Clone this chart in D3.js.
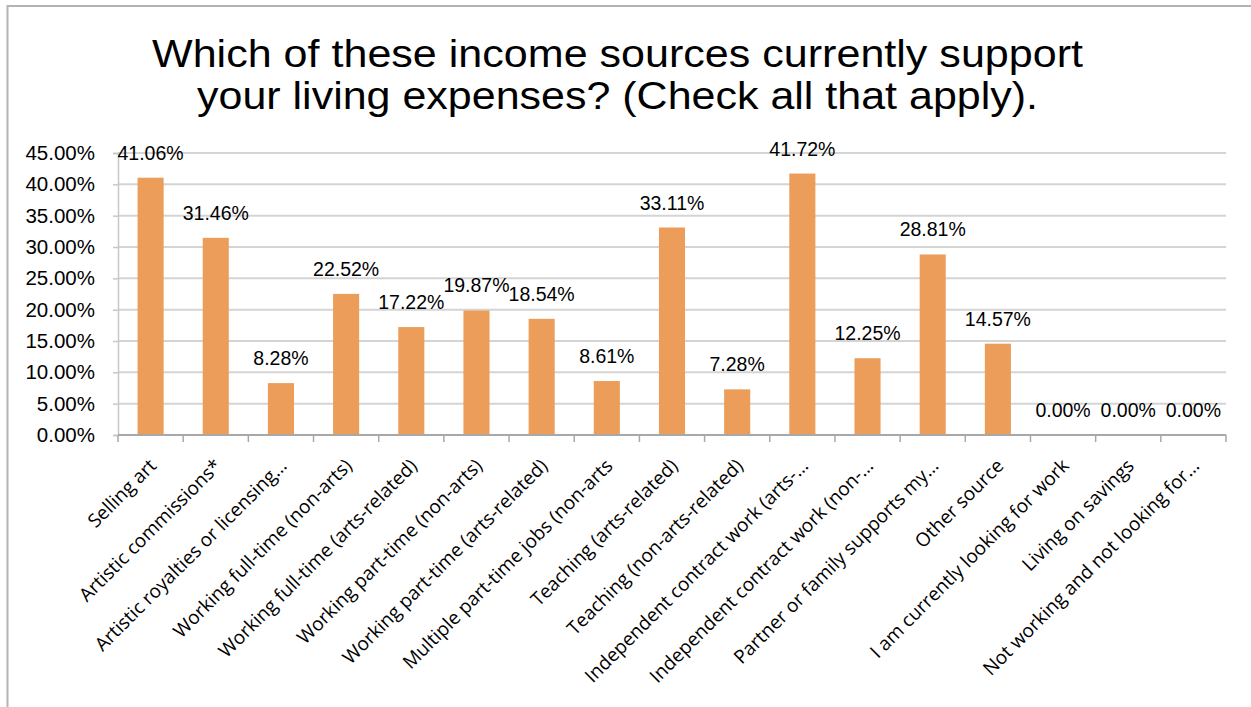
<!DOCTYPE html>
<html>
<head>
<meta charset="utf-8">
<script src="https://cdn.jsdelivr.net/npm/d3@7/dist/d3.min.js"></script>
<style>
  html, body { margin: 0; padding: 0; background: #fff; }
  svg { display: block; }
</style>
</head>
<body>
<script>
// Income sources and share of respondents (%)
const categories = [
  "Selling art",
  "Artistic commissions*",
  "Artistic royalties or licensing…",
  "Working full-time (non-arts)",
  "Working full-time (arts-related)",
  "Working part-time (non-arts)",
  "Working part-time (arts-related)",
  "Multiple part-time jobs (non-arts",
  "Teaching (arts-related)",
  "Teaching (non-arts-related)",
  "Independent contract work (arts-…",
  "Independent contract work (non-…",
  "Partner or family supports my…",
  "Other source",
  "I am currently looking for work",
  "Living on savings",
  "Not working and not looking for…"
];
const values = [41.06, 31.46, 8.28, 22.52, 17.22, 19.87, 18.54, 8.61, 33.11, 7.28, 41.72, 12.25, 28.81, 14.57, 0.00, 0.00, 0.00];
const yTicks = [0, 5, 10, 15, 20, 25, 30, 35, 40, 45];
const titleLines = [
  "Which of these income sources currently support",
  "your living expenses? (Check all that apply)."
];

const W = 1251, H = 707;
const plot = { left: 118, right: 1226, top: 153, bottom: 435 };

const svg = d3.select("body").append("svg")
  .attr("width", W).attr("height", H);

// Frame around the chart
svg.append("line").attr("x1", 7).attr("x2", W).attr("y1", 6).attr("y2", 6)
  .attr("stroke", "#b3b3b3").attr("stroke-width", 2);
svg.append("line").attr("x1", 7.5).attr("x2", 7.5).attr("y1", 5).attr("y2", H)
  .attr("stroke", "#b3b3b3").attr("stroke-width", 2);

// Title
const titleFont = "'Liberation Sans', Arial, Helvetica, sans-serif";
const titleSpecs = [
  { x0: 152, x1: 1083, y: 67 },
  { x0: 197, x1: 1038, y: 108.5 }
];
titleLines.forEach((t, i) => {
  const s = titleSpecs[i];
  svg.append("text")
    .attr("x", s.x0).attr("y", s.y)
    .attr("font-family", titleFont)
    .attr("font-size", 38)
    .attr("fill", "#000")
    .attr("textLength", s.x1 - s.x0)
    .attr("lengthAdjust", "spacingAndGlyphs")
    .text(t);
});

const x = d3.scaleBand()
  .domain(categories)
  .range([plot.left, plot.right])
  .paddingInner(0.6)
  .paddingOuter(0.3);

const y = d3.scaleLinear()
  .domain([0, 45])
  .range([plot.bottom, plot.top]);

// Horizontal gridlines
svg.append("g")
  .selectAll("line")
  .data(yTicks.filter(d => d > 0))
  .join("line")
  .attr("x1", plot.left).attr("x2", plot.right)
  .attr("y1", d => y(d)).attr("y2", d => y(d))
  .attr("stroke", "#d4d4d4").attr("stroke-width", 2);

// Y axis
const yAxis = svg.append("g")
  .attr("transform", `translate(${plot.left},0)`)
  .call(d3.axisLeft(y).tickValues(yTicks).tickSize(5).tickPadding(18)
    .tickFormat(d => d.toFixed(2) + "%"));
yAxis.select(".domain").attr("stroke", "#c8c8c8").attr("stroke-width", 1.5);
yAxis.selectAll(".tick line").attr("stroke", "#c8c8c8").attr("stroke-width", 1.5);
yAxis.selectAll(".tick text")
  .attr("font-family", titleFont)
  .attr("font-size", 20.5)
  .attr("fill", "#000");

// Bars
svg.append("g")
  .selectAll("rect")
  .data(values)
  .join("rect")
  .attr("x", (d, i) => x(categories[i]))
  .attr("width", x.bandwidth())
  .attr("y", d => y(d))
  .attr("height", d => plot.bottom - y(d))
  .attr("fill", "#EB9D59");

// X axis
const xAxis = svg.append("g");
xAxis.append("line")
  .attr("x1", plot.left).attr("x2", plot.right)
  .attr("y1", plot.bottom).attr("y2", plot.bottom)
  .attr("stroke", "#a8a8a8").attr("stroke-width", 2);
const boundaries = d3.range(categories.length + 1).map(i => plot.left + i * (plot.right - plot.left) / categories.length);
xAxis.selectAll("line.tk")
  .data(boundaries)
  .join("line")
  .attr("class", "tk")
  .attr("x1", d => d).attr("x2", d => d)
  .attr("y1", plot.bottom).attr("y2", plot.bottom + 7)
  .attr("stroke", "#a8a8a8").attr("stroke-width", 1.5);

// Category labels, rotated 45°
svg.append("g")
  .selectAll("text")
  .data(categories)
  .join("text")
  .attr("transform", d => `translate(${x(d) + x.bandwidth() / 2 + 7},${plot.bottom + 32}) rotate(-45)`)
  .attr("text-anchor", "end")
  .attr("font-family", "'Open Sans', 'Noto Sans', sans-serif")
  .attr("font-size", 19)
  .attr("fill", "#000")
  .text(d => d);

// Value labels
svg.append("g")
  .selectAll("text")
  .data(values)
  .join("text")
  .attr("x", (d, i) => x(categories[i]) + x.bandwidth() / 2)
  .attr("y", d => y(d) - 18)
  .attr("text-anchor", "middle")
  .attr("font-family", titleFont)
  .attr("font-size", 19.5)
  .attr("fill", "#000")
  .text(d => d.toFixed(2) + "%");
</script>
</body>
</html>
